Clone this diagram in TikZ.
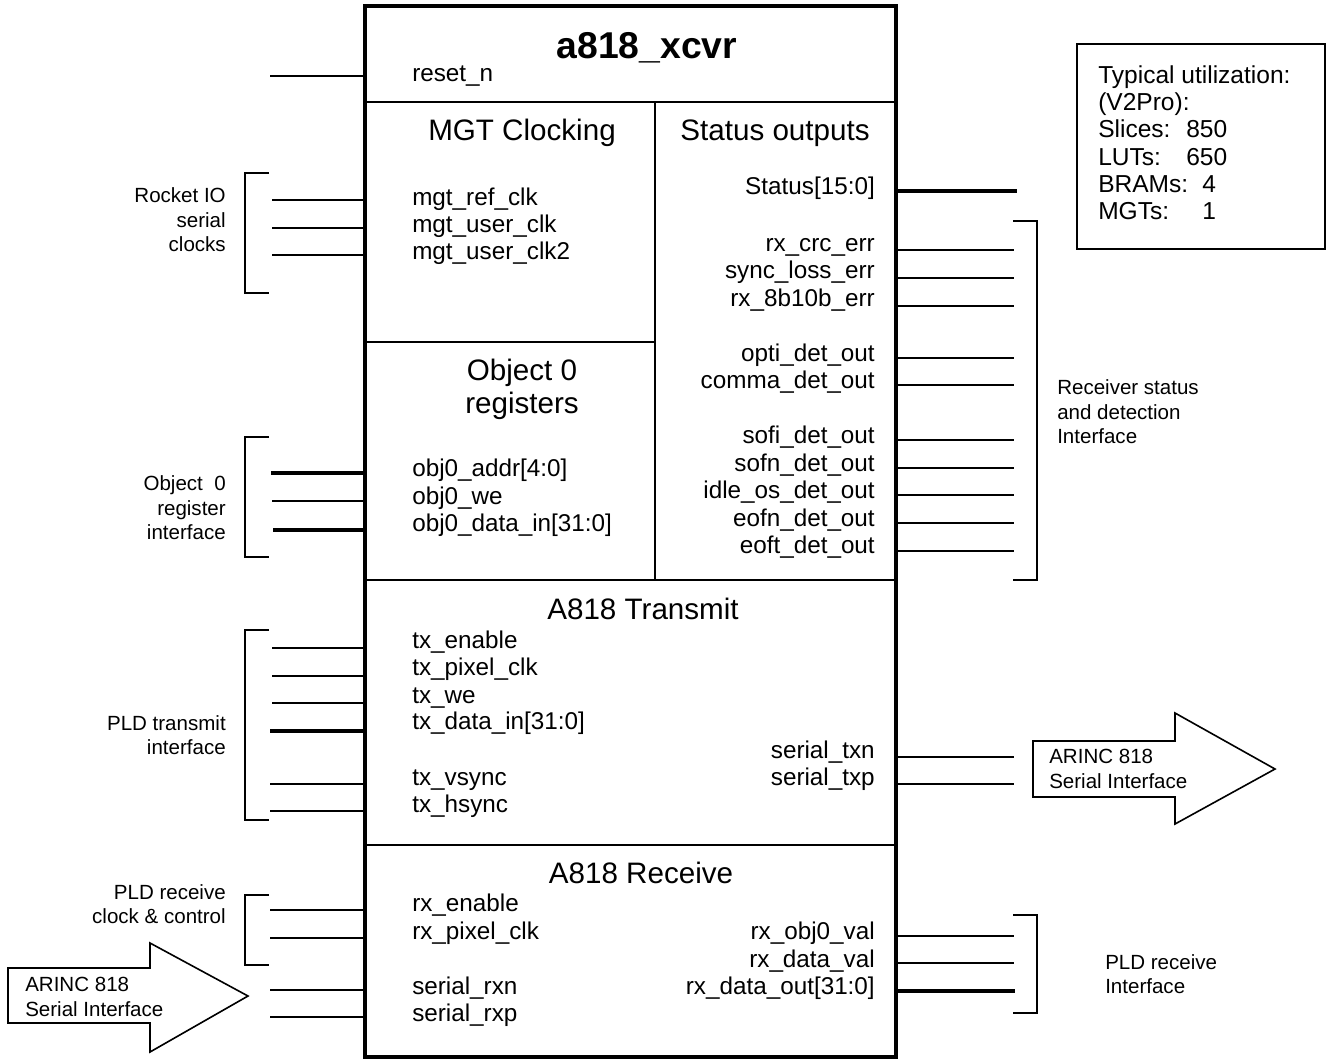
\documentclass[tikz,border=0pt]{standalone}
\usepackage{fontspec}
\setmainfont{Liberation Sans}
\begin{document}
\begin{tikzpicture}[x=0.75pt,y=-0.75pt,
  pinfont/.style={font=\fontsize{18.2pt}{21pt}\selectfont},
  pinL/.style={pinfont, anchor=mid west, inner sep=0pt, yshift=-2.2pt},
  pinR/.style={pinfont, anchor=mid east, inner sep=0pt, yshift=-2.2pt},
  hdr/.style={font=\fontsize{22.2pt}{26pt}\selectfont, anchor=base, inner sep=0pt},
  lbl/.style={font=\fontsize{15.4pt}{18.4pt}\selectfont, inner sep=0pt},
  sig/.style={line width=1.2pt},
  bus/.style={line width=3.6pt},
  brk/.style={line width=1.2pt},
  dvd/.style={line width=1.1pt},
  frm/.style={line width=3.4pt},
  util/.style={font=\fontsize{18.4pt}{20.5pt}\selectfont, inner sep=0pt, align=left, anchor=north west}]
\useasboundingbox (0,0) rectangle (1327,1061);

% ---------- main block ----------
\coordinate (boxNW) at (365,6);
\coordinate (boxSE) at (896,1057);
\draw[dvd] (365,102) -- (896,102);
\draw[dvd] (655,102) -- (655,580);
\draw[dvd] (365,342) -- (655,342);
\draw[dvd] (365,580) -- (896,580);
\draw[dvd] (365,845) -- (896,845);

\node[font=\bfseries\fontsize{28pt}{32pt}\selectfont, anchor=base, inner sep=0pt] (title) at (647,58) {a818\_xcvr};
\node[hdr] (hmgt) at (522,140) {MGT Clocking};
\node[hdr] (hstat) at (775,140) {Status outputs};
\node[hdr] (hobj1) at (522,380) {Object 0};
\node[hdr] (hobj2) at (522,413) {registers};
\node[hdr] (htx) at (643,619) {A818 Transmit};
\node[hdr] (hrx) at (641,883) {A818 Receive};

% ---------- left pins ----------
\node[pinL] (t-reset) at (412,75) {reset\_n};
\coordinate (p-reset) at (365,76); \coordinate (e-reset) at (270,76);
\draw[sig] (e-reset) -- (p-reset);

\node[pinL] (t-ref) at (412,199) {mgt\_ref\_clk};
\node[pinL] (t-uc) at (412,226) {mgt\_user\_clk};
\node[pinL] (t-uc2) at (412,253) {mgt\_user\_clk2};
\coordinate (p-ref) at (365,200); \coordinate (e-ref) at (272,200);
\coordinate (p-uc) at (365,228); \coordinate (e-uc) at (272,228);
\coordinate (p-uc2) at (365,255); \coordinate (e-uc2) at (272,255);
\draw[sig] (e-ref) -- (p-ref);
\draw[sig] (e-uc) -- (p-uc);
\draw[sig] (e-uc2) -- (p-uc2);

\node[pinL] (t-oa) at (412,470) {obj0\_addr[4:0]};
\node[pinL] (t-ow) at (412,498) {obj0\_we};
\node[pinL] (t-od) at (412,525) {obj0\_data\_in[31:0]};
\coordinate (p-oa) at (365,473); \coordinate (e-oa) at (271,473);
\coordinate (p-ow) at (365,501); \coordinate (e-ow) at (272,501);
\coordinate (p-od) at (365,530); \coordinate (e-od) at (273,530);
\draw[bus] (e-oa) -- (p-oa);
\draw[sig] (e-ow) -- (p-ow);
\draw[bus] (e-od) -- (p-od);

\node[pinL] (t-te) at (412,642) {tx\_enable};
\node[pinL] (t-tp) at (412,669) {tx\_pixel\_clk};
\node[pinL] (t-tw) at (412,697) {tx\_we};
\node[pinL] (t-td) at (412,723) {tx\_data\_in[31:0]};
\node[pinL] (t-tv) at (412,779) {tx\_vsync};
\node[pinL] (t-th) at (412,806) {tx\_hsync};
\coordinate (p-te) at (365,648); \coordinate (e-te) at (272,648);
\coordinate (p-tp) at (365,676); \coordinate (e-tp) at (272,676);
\coordinate (p-tw) at (365,703); \coordinate (e-tw) at (272,703);
\coordinate (p-td) at (365,731); \coordinate (e-td) at (270,731);
\coordinate (p-tv) at (365,784); \coordinate (e-tv) at (270,784);
\coordinate (p-th) at (365,811); \coordinate (e-th) at (270,811);
\draw[sig] (e-te) -- (p-te);
\draw[sig] (e-tp) -- (p-tp);
\draw[sig] (e-tw) -- (p-tw);
\draw[bus] (e-td) -- (p-td);
\draw[sig] (e-tv) -- (p-tv);
\draw[sig] (e-th) -- (p-th);

\node[pinL] (t-re) at (412,905) {rx\_enable};
\node[pinL] (t-rp) at (412,933) {rx\_pixel\_clk};
\node[pinL] (t-rn) at (412,988) {serial\_rxn};
\node[pinL] (t-rxp) at (412,1015) {serial\_rxp};
\coordinate (p-re) at (365,910); \coordinate (e-re) at (270,910);
\coordinate (p-rp) at (365,938); \coordinate (e-rp) at (270,938);
\coordinate (p-rn) at (365,990); \coordinate (e-rn) at (270,990);
\coordinate (p-rxp) at (365,1017); \coordinate (e-rxp) at (270,1017);
\draw[sig] (e-re) -- (p-re);
\draw[sig] (e-rp) -- (p-rp);
\draw[sig] (e-rn) -- (p-rn);
\draw[sig] (e-rxp) -- (p-rxp);

% ---------- right pins ----------
\node[pinR] (t-st) at (875,188) {Status[15:0]};
\coordinate (p-st) at (896,191); \coordinate (e-st) at (1017,191);
\draw[bus] (p-st) -- (e-st);

\foreach \n/\y/\t in {crc/245/rx\_crc\_err, sync/272/sync\_loss\_err, e8b/300/rx\_8b10b\_err,
  opti/355/opti\_det\_out, comma/382/comma\_det\_out, sofi/437/sofi\_det\_out,
  sofn/465/sofn\_det\_out, idle/492/idle\_os\_det\_out, eofn/520/eofn\_det\_out,
  eoft/547/eoft\_det\_out, stxn/752/serial\_txn, stxp/779/serial\_txp,
  rov/933/rx\_obj0\_val, rdv/961/rx\_data\_val}{
  \node[pinR] (t-\n) at (875,\y) {\t};
}
\foreach \n/\y in {crc/250, sync/278, e8b/306, opti/358, comma/385, sofi/440,
  sofn/468, idle/495, eofn/523, eoft/551, stxn/757, stxp/784, rov/936, rdv/963}{
  \coordinate (p-\n) at (896,\y);
  \coordinate (e-\n) at (1014,\y);
  \draw[sig] (p-\n) -- (e-\n);
}
\node[pinR] (t-rdo) at (875,988) {rx\_data\_out[31:0]};
\coordinate (p-rdo) at (896,991); \coordinate (e-rdo) at (1015,991);
\draw[bus] (p-rdo) -- (e-rdo);

% ---------- frame on top ----------
\draw[frm] (boxNW) rectangle (boxSE);

% ---------- brackets ----------
\draw[brk] (269,173) -- (245,173) -- (245,293) -- (269,293);
\draw[brk] (269,437) -- (245,437) -- (245,557) -- (269,557);
\draw[brk] (269,630) -- (245,630) -- (245,820) -- (269,820);
\draw[brk] (269,895) -- (245,895) -- (245,965) -- (269,965);
\draw[brk] (1013,221) -- (1037,221) -- (1037,580) -- (1013,580);
\draw[brk] (1013,915) -- (1037,915) -- (1037,1013) -- (1013,1013);

% ---------- group labels ----------
\node[lbl, align=right, anchor=east] (g-rocket) at (226,220) {Rocket IO\\serial\\clocks};
\node[lbl, align=right, anchor=east] (g-obj) at (226,508) {Object\ \ 0\\register\\interface};
\node[lbl, align=right, anchor=east] (g-tx) at (226,735) {PLD transmit\\interface};
\node[lbl, align=right, anchor=east] (g-rx) at (226,904) {PLD receive\\clock \& control};
\node[lbl, align=left, anchor=west] (g-stat) at (1057,412) {Receiver status\\and detection\\Interface};
\node[lbl, align=left, anchor=west] (g-prx) at (1105,974) {PLD receive\\Interface};

% ---------- arrows ----------
\draw[line width=1.2pt, line join=miter] (1033,741) -- (1175,741) -- (1175,713) -- (1275,769) -- (1175,824) -- (1175,797) -- (1033,797) -- cycle;
\node[lbl, align=left, anchor=west] (a-tx) at (1049,769) {ARINC 818\\Serial Interface};
\draw[line width=1.2pt, line join=miter] (8,968) -- (150,968) -- (150,943) -- (248,996) -- (150,1052) -- (150,1023) -- (8,1023) -- cycle;
\node[lbl, align=left, anchor=west] (a-rx) at (25,997) {ARINC 818\\Serial Interface};

% ---------- utilization ----------
\draw[line width=1.2pt] (1077,44) rectangle (1325,249);
\node[util] (utiltext) at (1098,65) {Typical utilization:\\(V2Pro):\\\makebox[66pt][l]{Slices:}850\\\makebox[66pt][l]{LUTs:}650\\\makebox[78pt][l]{BRAMs:}4\\\makebox[78pt][l]{MGTs:}1};
\end{tikzpicture}
\end{document}
